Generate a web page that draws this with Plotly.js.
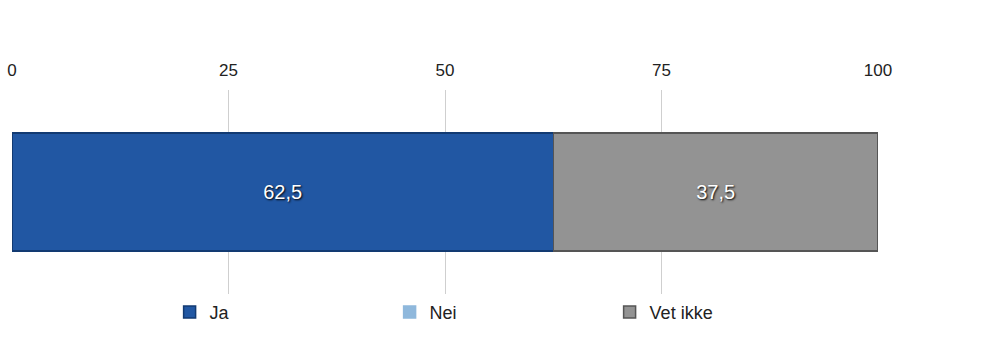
<!DOCTYPE html>
<html>
<head>
<meta charset="utf-8">
<script src="https://cdn.plot.ly/plotly-3.0.1.min.js"></script>
<style>html,body{margin:0;padding:0;background:#fff;}#chart{width:983px;height:343px;}</style>
</head>
<body>
<div id="chart"></div>
<script>
const categories = [""];
const seriesNames = ["Ja", "Nei", "Vet ikke"];
const jaValues = [62.5];
const neiValues = [0];
const vetIkkeValues = [37.5];
const tickValues = [0, 25, 50, 75, 100];
const tickLabels = ["0", "25", "50", "75", "100"];

const barColors = ["#2157a3", "#8fb8dc", "#939393"];
const lineColors = ["#123a72", "#8fb8dc", "#555555"];
const seriesValues = [jaValues, neiValues, vetIkkeValues];

const traces = seriesNames.map((name, i) => ({
  type: "bar",
  orientation: "h",
  name: name,
  y: categories,
  x: seriesValues[i],
  marker: { color: barColors[i], line: { color: lineColors[i], width: 1.5 } },
  texttemplate: seriesValues[i].map(v => v > 0 ? "%{x:.1f}" : ""),
  textposition: "inside",
  insidetextanchor: "middle",
  textfont: { family: "Liberation Sans, Arial, sans-serif", size: 20, color: "#ffffff", shadow: "1px 1px 2px #000" },
  hoverinfo: "none"
}));

const layout = {
  width: 983, height: 343,
  margin: { l: 12, r: 105, t: 90, b: 33 },
  paper_bgcolor: "#ffffff",
  plot_bgcolor: "#ffffff",
  separators: ", ",
  barmode: "stack",
  bargap: 0.42,
  showlegend: true,
  xaxis: {
    side: "top",
    range: [0, 100],
    tickvals: tickValues,
    ticktext: tickLabels,
    showgrid: true,
    gridcolor: "#cfcfcf",
    gridwidth: 1,
    zeroline: false,
    showline: false,
    ticks: "",
    ticklabelstandoff: 10,
    tickfont: { family: "Liberation Sans, Arial, sans-serif", size: 17, color: "#222" }
  },
  yaxis: {
    showgrid: false, zeroline: false, showline: false, showticklabels: false, ticks: ""
  },
  legend: {
    orientation: "h",
    x: 0.182, xanchor: "left",
    y: -0.09, yanchor: "middle",
    traceorder: "normal",
    entrywidth: 175, entrywidthmode: "pixels",
    font: { family: "Liberation Sans, Arial, sans-serif", size: 18, color: "#222" }
  }
};

Plotly.newPlot("chart", traces, layout, { displayModeBar: false, staticPlot: true });
</script>
</body>
</html>
